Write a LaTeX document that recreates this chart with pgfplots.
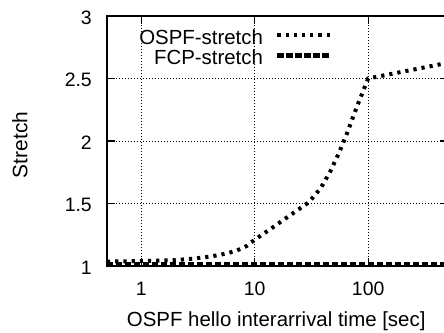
\documentclass[border=0pt]{standalone}
\usepackage{fontspec}
\setmainfont{Liberation Sans}
\usepackage{pgfplots}
\pgfplotsset{compat=1.18}
\begin{document}
\fontsize{20}{24}\selectfont
\begin{tikzpicture}
\useasboundingbox (-107bp,-67bp) rectangle (337bp,266bp);
\begin{axis}[
  at={(0,0)}, anchor=south west,
  scale only axis, width=340.5bp, height=250bp,
  xmode=log, xmin=0.5, xmax=500, ymin=1, ymax=3,
  xtick={1,10,100}, xticklabels={1,10,100},
  ytick={1,1.5,2,2.5,3}, yticklabels={1,1.5,2,2.5,3},
  xminorticks=false, yminorticks=false,
  tick align=inside, major tick length=8bp,
  axis line style={line width=1.6bp},
  every tick/.style={black, line width=1.3bp},
  grid=major,
  grid style={black, line width=0.8bp, dash pattern=on 1bp off 2bp},
  xticklabel style={font=\fontsize{19.5}{23}\selectfont, anchor=base, yshift=-29bp, inner sep=0pt},
  yticklabel style={font=\fontsize{19.5}{23}\selectfont, anchor=east, xshift=-15bp, yshift=-1.5bp, inner sep=0pt},
  xlabel={OSPF hello interarrival time [sec]},
  xlabel style={font=\fontsize{20.5}{24}\selectfont, at={(axis description cs:0.497,0)}, anchor=base, yshift=-60bp, inner sep=0pt},
  ylabel={Stretch},
  ylabel style={font=\fontsize{21}{24}\selectfont, at={(axis description cs:0,0.484)}, anchor=center, yshift=87bp, inner sep=0pt},
  clip=false,
  legend plot pos=right,
  legend cell align=right,
  legend image code/.code={\draw[#1] (0bp,4bp) -- (53bp,4bp);},
  legend style={draw=none, fill=none, at={(axis description cs:0.6637,1)}, anchor=north east, yshift=-14.5bp,
    inner sep=0pt, outer sep=0pt, font=\fontsize{20.5}{24}\selectfont,
    nodes={inner sep=0pt, text height=14bp, text depth=4bp},
    /tikz/row sep=2bp, /tikz/column sep=12bp},
]
\addplot[black, line width=4bp, dash pattern=on 3.2bp off 5bp] coordinates {
  (0.5,1.035) (1,1.04) (2,1.047) (3,1.06) (4,1.075) (5,1.09) (6,1.107) (7,1.125)
  (8.5,1.16) (10,1.21) (14,1.30) (18,1.37) (25,1.46) (30,1.51) (38,1.62)
  (46,1.75) (55,1.90) (65,2.06) (80,2.28) (100,2.5) (500,2.625)
};
\addlegendentry{OSPF-stretch}
\addplot[black, line width=5bp, dash pattern=on 6.3bp off 2.7bp] coordinates {
  (0.5,1.01) (500,1.01)
};
\addlegendentry{FCP-stretch}
\end{axis}
\end{tikzpicture}
\end{document}
